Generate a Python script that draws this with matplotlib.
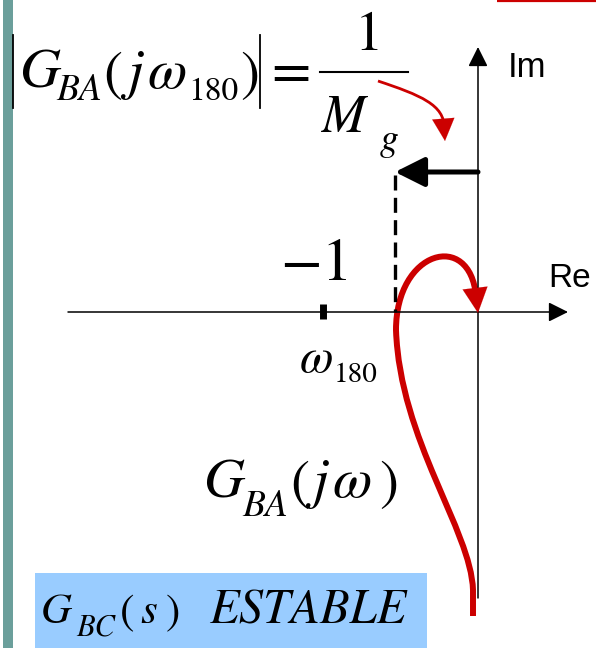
import matplotlib.pyplot as plt
from matplotlib.patches import Rectangle, PathPatch
from matplotlib.path import Path

# Nyquist sketch of G_BA(jw), pixel-style coordinates (y grows downwards)
# straight tail, then two cubic Bezier pieces (start, ctrl, ctrl, end)
curve_x = [473, 473, 471, 400, 396, 396, 470, 476]
curve_y = [616, 590, 530, 440, 330, 250, 230, 296]
curve_end = (478, 313)

# 1/Mg pointer arrow (red, curved)
mg_x = [378, 420, 445, 444]
mg_y = [81, 95, 105, 128]
mg_end = (445, 141)

origin = (478, 312)
re_axis = (68, 568)
im_axis = (598, 47)
w180_x = 395        # real part of G_BA(j w180)
minus_one_x = 323

RED = '#CC0000'
SERIF = 'STIXGeneral'


def piece(ax, x, y, s, size, italic=True):
    ax.text(x, y, s, family=SERIF, style='italic' if italic else 'normal',
            fontsize=size, ha='left', va='baseline')


fig = plt.figure(figsize=(5.96, 6.48), dpi=100)
ax = fig.add_axes([0, 0, 1, 1])
ax.set_xlim(0, 596)
ax.set_ylim(648, 0)
ax.axis('off')

# side bar and top accent
ax.add_patch(Rectangle((3, 0), 10, 648, color='#6B9F9B', lw=0))
ax.plot([497, 596], [0.8, 0.8], color=RED, lw=1.6, solid_capstyle='butt')

# axes
head = '-|>,head_length=0.6,head_width=0.3'
ax.annotate('', xy=(re_axis[1], origin[1]), xytext=(re_axis[0], origin[1]),
            arrowprops=dict(arrowstyle=head, lw=1.1, color='k',
                            mutation_scale=20, shrinkA=0, shrinkB=0))
ax.annotate('', xy=(origin[0], im_axis[1]), xytext=(origin[0], im_axis[0]),
            arrowprops=dict(arrowstyle=head, lw=1.1, color='k',
                            mutation_scale=20, shrinkA=0, shrinkB=0))
ax.text(508, 77, 'Im', family='Liberation Sans', fontsize=25,
        ha='left', va='baseline')
ax.text(548, 287, 'Re', family='Liberation Sans', fontsize=24,
        ha='left', va='baseline')

# -1 mark
ax.plot([minus_one_x, minus_one_x], [304, 319], color='k', lw=5,
        solid_capstyle='butt')
piece(ax, 280, 280, '\u22121', 44, italic=False)
piece(ax, 300, 372, '\u03c9', 35)
piece(ax, 334, 382, '180', 21, italic=False)

# gain margin arrow and dashed projection
ax.annotate('', xy=(w180_x, 172), xytext=(origin[0], 172),
            arrowprops=dict(arrowstyle='-|>,head_length=0.9,head_width=0.45',
                            lw=3.6, color='k', mutation_scale=20,
                            shrinkA=0, shrinkB=0))
ax.plot([w180_x, w180_x], [175, origin[1]], color='k', lw=2.4,
        dashes=(4.5, 2.2))

# Nyquist curve
codes = [Path.MOVETO, Path.LINETO] + [Path.CURVE4] * 6
nyq = Path(list(zip(curve_x, curve_y)), codes)
ax.add_patch(PathPatch(nyq, fill=False, edgecolor=RED, lw=4.3,
                       capstyle='butt', joinstyle='round'))
ax.annotate('', xy=curve_end, xytext=(curve_x[-1], curve_y[-1]),
            arrowprops=dict(arrowstyle='-|>,head_length=0.9,head_width=0.45',
                            lw=0.1, color=RED, mutation_scale=20,
                            shrinkA=0, shrinkB=0))

# |G_BA(j w180)| = 1/Mg
ax.plot([13, 13], [35, 108], color='k', lw=1.3)
ax.plot([260, 260], [35, 108], color='k', lw=1.3)
piece(ax, 19, 88, 'G', 41)
piece(ax, 56, 100, 'BA', 27)
piece(ax, 103, 90, '(', 41, italic=False)
piece(ax, 127, 88, 'j', 41)
piece(ax, 147, 88, '\u03c9', 41)
piece(ax, 188, 100, '180', 24, italic=False)
piece(ax, 240, 90, ')', 41, italic=False)
piece(ax, 271, 88, '=', 41, italic=False)

piece(ax, 355, 50, '1', 41, italic=False)
ax.plot([320, 408], [72, 72], color='k', lw=1.5)
piece(ax, 322, 132, 'M', 38)
piece(ax, 380, 150, 'g', 27)

mg = Path(list(zip(mg_x, mg_y)), [Path.MOVETO] + [Path.CURVE4] * 3)
ax.add_patch(PathPatch(mg, fill=False, edgecolor=RED, lw=2))
ax.annotate('', xy=mg_end, xytext=(mg_x[-1], mg_y[-1]),
            arrowprops=dict(arrowstyle='-|>,head_length=0.8,head_width=0.4',
                            lw=0.1, color=RED, mutation_scale=20,
                            shrinkA=0, shrinkB=0))

# G_BA(jw) label
piece(ax, 203, 497, 'G', 41)
piece(ax, 242, 516, 'BA', 27)
piece(ax, 290, 499, '(', 41, italic=False)
piece(ax, 312, 497, 'j', 41)
piece(ax, 332, 497, '\u03c9', 41)
piece(ax, 379, 499, ')', 41, italic=False)

# stability box
ax.add_patch(Rectangle((35, 573), 392, 75, color='#99CCFF', lw=0))
piece(ax, 41, 623, 'G', 31)
piece(ax, 76, 636, 'BC', 22)
piece(ax, 120, 624, '(', 31, italic=False)
piece(ax, 140, 623, 's', 31)
piece(ax, 166, 624, ')', 31, italic=False)
piece(ax, 209, 623, 'ESTABLE', 35)

fig.savefig('out.png', dpi=100)
